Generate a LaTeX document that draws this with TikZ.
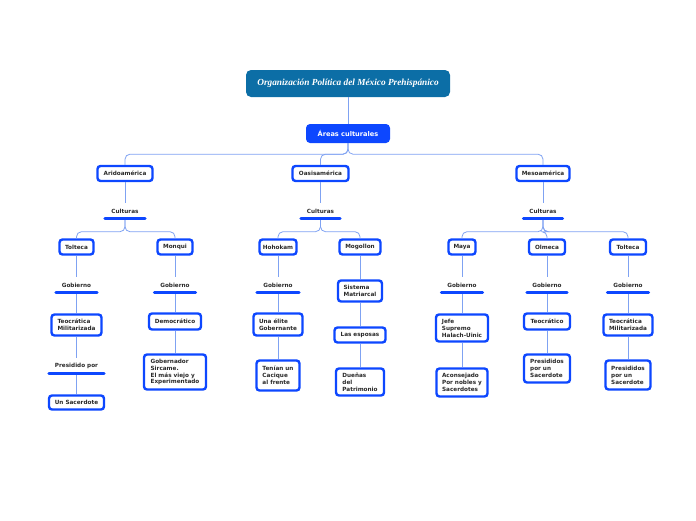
\documentclass[tikz,border=0pt]{standalone}
\usepackage{fontspec}
\setmainfont{DejaVu Sans}
\newfontfamily\titlefont{Liberation Serif}
\definecolor{mapblue}{HTML}{0D47FF}
\definecolor{maptitle}{HTML}{0C6EA6}
\definecolor{maplink}{HTML}{7FA2F2}
\definecolor{maptext}{HTML}{2A2A2A}

\tikzset{
    box/.style={draw=mapblue, rounded corners=3pt, line width=2.4pt, fill=white,
        font=\fontsize{5.7}{6.9}\selectfont\bfseries, text=maptext,
        align=left, inner sep=2pt},
    topic/.style={rounded corners=4pt, fill=mapblue, text=white,
        font=\fontsize{6.6}{7.5}\selectfont\bfseries, inner sep=2pt},
    root/.style={rounded corners=5pt, fill=maptitle, text=white,
        font=\titlefont\fontsize{9.3}{10}\selectfont\bfseries\itshape, inner sep=2pt},
    tag/.style={font=\fontsize{5.7}{6.9}\selectfont\bfseries, text=maptext,
        minimum height=15pt, inner sep=0pt},
    bar/.style={draw=mapblue, line width=2.8pt, line cap=round},
    link/.style={draw=maplink, line width=0.8pt},
    branch/.style={link, rounded corners=5pt}
}

\begin{document}
\begin{tikzpicture}[x=1pt, y=-1pt]
    \useasboundingbox (0,0) rectangle (696,520);
    % cabecera
    \node[root, minimum width=204, minimum height=27] (title) at (348,83.5)
        {Organización Política del México Prehispánico};
    \node[topic, minimum width=84, minimum height=19] (areas) at (348,133.5) {Áreas culturales};
    % areas
    \node[box, minimum width=55, minimum height=15] (arido) at (125,173.5) {Aridoamérica};
    \node[box, minimum width=56, minimum height=15] (oasis) at (320.5,173.5) {Oasisamérica};
    \node[box, minimum width=53, minimum height=15] (meso) at (543,173.5) {Mesoamérica};
    \node[tag, minimum width=40] (culA) at (125,211) {Culturas};
    \node[tag, minimum width=39] (culO) at (320.5,211) {Culturas};
    \node[tag, minimum width=39] (culM) at (543,211) {Culturas};
    % culturas
    \node[box, minimum width=34, minimum height=15] (toltA) at (76.5,247) {Tolteca};
    \node[box, minimum width=35, minimum height=15] (monqui) at (175,247) {Monqui};
    \node[box, minimum width=37, minimum height=15] (hohokam) at (278,247) {Hohokam};
    \node[box, minimum width=41, minimum height=15] (mogollon) at (360,247) {Mogollon};
    \node[box, minimum width=27, minimum height=15] (maya) at (462,247) {Maya};
    \node[box, minimum width=36, minimum height=15] (olmeca) at (547,247) {Olmeca};
    \node[box, minimum width=36, minimum height=15] (toltM) at (628,247) {Tolteca};
    % gobierno
    \node[tag, minimum width=41] (gobA) at (76.5,285) {Gobierno};
    \node[tag, minimum width=41] (gobB) at (175,285) {Gobierno};
    \node[tag, minimum width=42] (gobH) at (278,285) {Gobierno};
    \node[tag, minimum width=41] (gobY) at (462,285) {Gobierno};
    \node[tag, minimum width=40] (gobO) at (547,285) {Gobierno};
    \node[tag, minimum width=41] (gobT) at (628,285) {Gobierno};
    % Aridoamerica
    \node[box, minimum width=50, minimum height=21] (teoA) at (76.5,325) {Teocrática\\Militarizada};
    \node[tag, minimum width=55] (presA) at (76.5,366) {Presidido por};
    \node[box, minimum width=55, minimum height=14] (sacA) at (76.5,402.5) {Un Sacerdote};
    \node[box, minimum width=52, minimum height=16] (demo) at (175,321.5) {Democrático};
    \node[box, minimum width=62, minimum height=35] (gober) at (175,372)
        {Gobernador\\ Sircame.\\El más viejo y\\Experimentado};
    % Oasisamerica
    \node[box, minimum width=49, minimum height=22] (elite) at (278,324.5) {Una élite\\Gobernante};
    \node[box, minimum width=43, minimum height=30] (tenian) at (278,375.5) {Tenían un\\Cacique\\al frente};
    \node[box, minimum width=44, minimum height=21] (sistema) at (360,291) {Sistema\\Matriarcal};
    \node[box, minimum width=51, minimum height=15] (esposas) at (360,335) {Las esposas};
    \node[box, minimum width=48, minimum height=27] (duenas) at (360,382) {Dueñas\\del\\Patrimonio};
    % Mesoamerica
    \node[box, minimum width=52, minimum height=27] (jefe) at (462,328) {Jefe\\Supremo\\Halach-Uinic};
    \node[box, minimum width=51, minimum height=28] (acons) at (462,382.5) {Aconsejado\\Por nobles y\\Sacerdotes};
    \node[box, minimum width=46, minimum height=16] (teoO) at (547,321.5) {Teocrático};
    \node[box, minimum width=46, minimum height=28] (presO) at (547,368.5) {Presididos\\por un\\Sacerdote};
    \node[box, minimum width=49, minimum height=21] (teoT) at (628,325) {Teocrática\\Militarizada};
    \node[box, minimum width=45, minimum height=29] (presT) at (628,375) {Presididos\\por un\\Sacerdote};

    % conexiones
    \path[link] (title) -- (areas);
    \foreach \a in {arido,oasis,meso}
        \path[branch] (areas.south) -- ++(0,11) -| (\a.north);
    \path[link] (arido) -- (culA);
    \path[link] (oasis) -- (culO);
    \path[link] (meso) -- (culM);
    \foreach \c in {toltA,monqui}
        \path[branch] (culA.south) -- ++(0,13) -| (\c.north);
    \foreach \c in {hohokam,mogollon}
        \path[branch] (culO.south) -- ++(0,13) -| (\c.north);
    \foreach \c in {maya,olmeca,toltM}
        \path[branch] (culM.south) -- ++(0,13) -| (\c.north);
    \path[link] (toltA) -- (gobA) -- (teoA) -- (presA) -- (sacA);
    \path[link] (monqui) -- (gobB) -- (demo) -- (gober);
    \path[link] (hohokam) -- (gobH) -- (elite) -- (tenian);
    \path[link] (mogollon) -- (sistema) -- (esposas) -- (duenas);
    \path[link] (maya) -- (gobY) -- (jefe) -- (acons);
    \path[link] (olmeca) -- (gobO) -- (teoO) -- (presO);
    \path[link] (toltM) -- (gobT) -- (teoT) -- (presT);
    \foreach \t in {culA,culO,culM,gobA,gobB,gobH,gobY,gobO,gobT,presA}
        \path[bar] (\t.south west) -- (\t.south east);
\end{tikzpicture}
\end{document}
